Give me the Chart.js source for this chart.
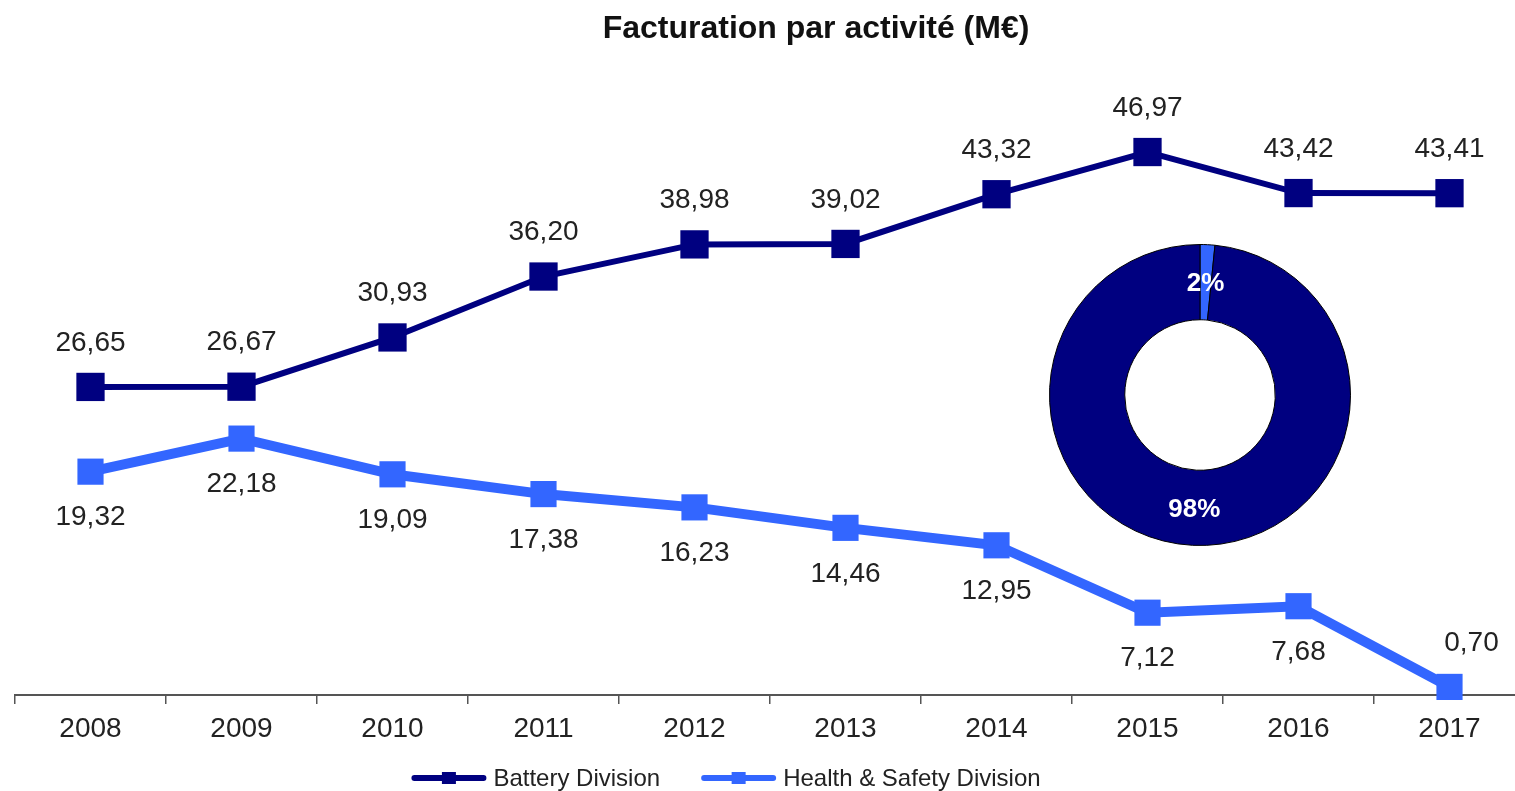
<!DOCTYPE html>
<html lang="fr">
<head>
<meta charset="utf-8">
<title>Facturation par activité</title>
<script src="https://cdn.jsdelivr.net/npm/chart.js@4.4.0/dist/chart.umd.min.js"></script>
<style>
  html, body { margin: 0; padding: 0; background: #fff; overflow: hidden; }
  #wrap { position: relative; width: 1540px; height: 791px; }
  #line-chart { position: absolute; left: 0; top: 0; }
  #donut-chart { position: absolute; left: 1049px; top: 244px; }
</style>
</head>
<body>
<div id="wrap">
  <canvas id="line-chart" width="1540" height="791"></canvas>
  <canvas id="donut-chart" width="302" height="302"></canvas>
</div>
<script>
  const chartTitle = 'Facturation par activité (M€)';
  const years = ['2008', '2009', '2010', '2011', '2012', '2013', '2014', '2015', '2016', '2017'];
  const batteryValues = [26.65, 26.67, 30.93, 36.20, 38.98, 39.02, 43.32, 46.97, 43.42, 43.41];
  const healthValues = [19.32, 22.18, 19.09, 17.38, 16.23, 14.46, 12.95, 7.12, 7.68, 0.70];
  const seriesNames = ['Battery Division', 'Health & Safety Division'];

  const NAVY = '#000080';
  const BLUE = '#3366FF';
  const FONT = '"Liberation Sans", Arial, sans-serif';

  // Title drawn above the plot
  const titlePlugin = {
    id: 'customTitle',
    afterDraw(chart) {
      const ctx = chart.ctx;
      ctx.save();
      ctx.font = 'bold 32px ' + FONT;
      ctx.fillStyle = '#111';
      ctx.textAlign = 'center';
      ctx.textBaseline = 'alphabetic';
      ctx.fillText(chartTitle, 816, 38);
      ctx.restore();
    }
  };

  // Value labels next to each point (French decimal comma)
  const valueLabels = {
    id: 'valueLabels',
    afterDatasetsDraw(chart) {
      const ctx = chart.ctx;
      const bottom = chart.chartArea.bottom;
      ctx.save();
      ctx.font = '28px ' + FONT;
      ctx.fillStyle = '#222';
      ctx.textAlign = 'center';
      ctx.textBaseline = 'middle';
      chart.data.datasets.forEach((ds, i) => {
        const meta = chart.getDatasetMeta(i);
        meta.data.forEach((pt, j) => {
          const text = ds.data[j].toFixed(2).replace('.', ',');
          let x = pt.x, y;
          if (ds.labelSide === 'above') {
            y = pt.y - 44;
          } else if (bottom - pt.y < 40) {
            // too close to the axis: put it above, a bit to the right
            y = pt.y - 44;
            x += 22;
          } else {
            y = pt.y + 46;
          }
          ctx.fillText(text, x, y);
        });
      });
      ctx.restore();
    }
  };

  // Legend at the bottom: line sample with small square marker
  const legendPlugin = {
    id: 'bottomLegend',
    afterDraw(chart) {
      const ctx = chart.ctx;
      ctx.save();
      ctx.font = '24px ' + FONT;
      const sample = 75, gap = 7, spacing = 41;
      const items = chart.data.datasets.map(ds => ({ ds, w: ctx.measureText(ds.label).width }));
      const total = items.reduce((s, it) => s + sample + gap + it.w, 0) + spacing * (items.length - 1);
      let x = 726 - total / 2;
      const y = 778;
      items.forEach(({ ds, w }) => {
        ctx.strokeStyle = ds.borderColor;
        ctx.lineWidth = 6;
        ctx.lineCap = 'round';
        ctx.beginPath();
        ctx.moveTo(x + 3, y);
        ctx.lineTo(x + sample - 3, y);
        ctx.stroke();
        ctx.fillStyle = ds.borderColor;
        ctx.fillRect(x + sample / 2 - 7, y - 6, 14, 12);
        ctx.fillStyle = '#222';
        ctx.textAlign = 'left';
        ctx.textBaseline = 'alphabetic';
        ctx.fillText(ds.label, x + sample + gap, 786);
        x += sample + gap + w + spacing;
      });
      ctx.restore();
    }
  };

  const lineChart = new Chart(document.getElementById('line-chart'), {
    type: 'line',
    data: {
      labels: years,
      datasets: [{
        label: seriesNames[0],
        data: batteryValues,
        borderColor: NAVY,
        backgroundColor: NAVY,
        pointBackgroundColor: NAVY,
        borderWidth: 6,
        pointStyle: 'rect',
        pointRadius: 20,
        pointBorderWidth: 0,
        tension: 0,
        clip: false,
        labelSide: 'above'
      }, {
        label: seriesNames[1],
        data: healthValues,
        borderColor: BLUE,
        backgroundColor: BLUE,
        pointBackgroundColor: BLUE,
        borderWidth: 10,
        pointStyle: 'rect',
        pointRadius: 18.5,
        pointBorderWidth: 0,
        tension: 0,
        clip: false,
        labelSide: 'below'
      }]
    },
    options: {
      responsive: false,
      animation: false,
      layout: { autoPadding: false, padding: { top: 117, left: 15, right: 15, bottom: 0 } },
      plugins: {
        legend: { display: false },
        title: { display: false },
        tooltip: { enabled: false }
      },
      scales: {
        x: {
          offset: true,
          grid: {
            display: true,
            offset: true,
            drawOnChartArea: false,
            drawTicks: true,
            tickLength: 9,
            color: '#555',
            lineWidth: 1.5
          },
          border: { display: true, color: '#555', width: 2 },
          ticks: {
            color: '#222',
            font: { size: 28, family: FONT },
            padding: 8,
            maxRotation: 0,
            autoSkip: false
          },
          afterFit(scale) { scale.height = 96; }
        },
        y: { display: false, min: 0, max: 50 }
      }
    },
    plugins: [titlePlugin, valueLabels, legendPlugin]
  });

  // Donut: share of 2017 revenue
  const shareValues = [healthValues[healthValues.length - 1], batteryValues[batteryValues.length - 1]];
  const shareNames = [seriesNames[1], seriesNames[0]];

  const donutLabels = {
    id: 'donutLabels',
    afterDatasetsDraw(chart) {
      const ctx = chart.ctx;
      const data = chart.data.datasets[0].data;
      const total = data.reduce((a, b) => a + b, 0);
      ctx.save();
      ctx.font = 'bold 26px ' + FONT;
      ctx.fillStyle = '#fff';
      ctx.textAlign = 'center';
      ctx.textBaseline = 'middle';
      chart.getDatasetMeta(0).data.forEach((arc, i) => {
        const p = arc.getCenterPoint();
        ctx.fillText(Math.round(data[i] / total * 100) + '%', p.x, p.y + 2);
      });
      ctx.restore();
    }
  };

  const donutChart = new Chart(document.getElementById('donut-chart'), {
    type: 'doughnut',
    data: {
      labels: shareNames,
      datasets: [{
        data: shareValues,
        backgroundColor: [BLUE, NAVY],
        borderColor: '#000',
        borderWidth: 1
      }]
    },
    options: {
      responsive: false,
      animation: false,
      cutout: '50%',
      layout: { padding: 0 },
      plugins: {
        legend: { display: false },
        tooltip: { enabled: false }
      }
    },
    plugins: [donutLabels]
  });
</script>
</body>
</html>
